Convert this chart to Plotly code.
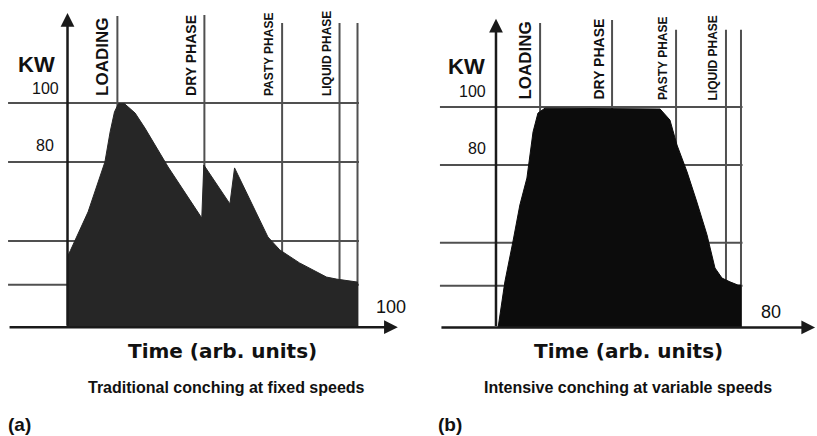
import plotly.graph_objects as go

# ---- data -------------------------------------------------------------
PHASES = ["LOADING", "DRY PHASE", "PASTY PHASE", "LIQUID PHASE"]

# (a) traditional conching: power draw (KW) over time (arb. units)
TIME_A = [0, 1.0, 7.1, 12.9, 14.7, 16.2, 17.6, 19.6, 23.3, 26.7, 34.7, 46.3,
          47.0, 56.0, 57.6, 69.1, 73.2, 80.0, 89.3, 92.8, 100]
KW_A = [48.0, 50.0, 63.1, 80.0, 90.2, 97.0, 99.8, 99.8, 96.6, 91.5, 78.3, 61.0,
        79.0, 65.8, 78.0, 54.6, 50.2, 45.8, 41.0, 40.3, 39.3]
PHASE_T_A = [17.2, 47.2, 74.0, 93.8]
END_A = 100

# (b) intensive conching
TIME_B = [0.7, 2.9, 5.5, 7.8, 10.1, 12.1, 13.7, 16.0, 53.6, 56.8, 59.1, 62.4,
          65.6, 68.9, 71.5, 73.8, 76.4, 79.0, 80]
KW_B = [24.0, 39.7, 53.4, 66.2, 75.5, 91.4, 97.9, 99.6, 99.3, 95.5, 86.9, 77.6,
        67.2, 55.9, 44.5, 41.0, 39.7, 38.6, 38.6]
PHASE_T_B = [14.4, 37.9, 58.8, 75.1]
END_B = 80

Y_TICKS = [100, 80]
GRID_KW = [100, 80, 53.2, 38.4]
BASE_KW = 24

TITLES = ["Traditional conching at fixed speeds", "Intensive conching at variable speeds"]
TAGS = ["(a)", "(b)"]
X_TITLE = "Time (arb. units)"

# ---- styling ------------------------------------------------------------
W, H = 817, 436
SANS = "Liberation Sans, Arial, sans-serif"
GRID_COL = "#505050"
AXIS_COL = "#1a1a1a"
LABEL_SIZES = [17, 14, 12, 12]

panels = [
    dict(x="x", y="y", dom=[0, 408 / W], xr=[-23.28, 117.41], yr=[-12.88, 134.92],
         t=TIME_A, kw=KW_A, phase_t=PHASE_T_A, end=END_A,
         tops=[129.5, 129.8, 127.1, 127.1], end_top=127.1, y_top=130.5,
         grid_left=-20.5, x_tip=113.9, fill="#262626",
         kw_px=(36, 64), end_lbl=(111.5, 31.0), tick_shift=[(-7, 4), (-12, 6)],
         xt=(222.5, 351), st=(226, 387), tag=(19, 424)),
    dict(x="x2", y="y2", dom=[408 / W, 1], xr=[-28.73, 104.82], yr=[-13.45, 136.9],
         t=TIME_B, kw=KW_B, phase_t=PHASE_T_B, end=END_B,
         tops=[129.0, 130.0, 126.6, 126.6], end_top=126.6, y_top=130.4,
         grid_left=-18.3, x_tip=104.2, fill="#0c0c0c",
         kw_px=(466, 66.5), end_lbl=(89.8, 29.4), tick_shift=[(-8, 5), (-8, 6)],
         xt=(628.5, 351), st=(628, 387), tag=(450, 424)),
]

fig = go.Figure()
shapes, annotations = [], []

for p in panels:
    # filled power profile
    xs = [p["t"][0]] + p["t"] + [p["end"]]
    ys = [BASE_KW] + p["kw"] + [BASE_KW]
    fig.add_trace(go.Scatter(x=xs, y=ys, xaxis=p["x"], yaxis=p["y"], mode="lines",
                             fill="toself", fillcolor=p["fill"],
                             line=dict(color=p["fill"], width=1),
                             hoverinfo="skip", showlegend=False))

    # horizontal grid
    for g in GRID_KW:
        shapes.append(dict(type="line", xref=p["x"], yref=p["y"], layer="below",
                           x0=p["grid_left"], x1=p["end"] + 0.5, y0=g, y1=g,
                           line=dict(color=GRID_COL, width=2)))
    # phase boundaries
    for t, top in zip(p["phase_t"] + [p["end"]], p["tops"] + [p["end_top"]]):
        shapes.append(dict(type="line", xref=p["x"], yref=p["y"], layer="below",
                           x0=t, x1=t, y0=BASE_KW, y1=top,
                           line=dict(color=GRID_COL, width=2)))
    # phase labels
    for name, t, fs in zip(PHASES, p["phase_t"], LABEL_SIZES):
        annotations.append(dict(text="<b>%s</b>" % name, xref=p["x"], yref=p["y"],
                                x=t, y=100, xanchor="right", yanchor="bottom",
                                xshift=-4, yshift=5, textangle=-90, showarrow=False,
                                font=dict(family=SANS, size=fs, color="#111")))

    # axes with arrow heads
    annotations.append(dict(text="", xref=p["x"], yref=p["y"], x=0, y=p["y_top"],
                            ax=0, ay=BASE_KW, axref=p["x"], ayref=p["y"],
                            showarrow=True, arrowhead=2, arrowsize=1.1,
                            arrowwidth=2.5, arrowcolor=AXIS_COL, standoff=0))
    annotations.append(dict(text="", xref=p["x"], yref=p["y"], x=p["x_tip"], y=BASE_KW,
                            ax=p["grid_left"], ay=BASE_KW, axref=p["x"], ayref=p["y"],
                            showarrow=True, arrowhead=2, arrowsize=1.1,
                            arrowwidth=2.5, arrowcolor=AXIS_COL, standoff=0))

    # y tick labels and unit
    for v, (dx, dy) in zip(Y_TICKS, p["tick_shift"]):
        annotations.append(dict(text=str(v), xref=p["x"], yref=p["y"], x=0, y=v,
                                xanchor="right", yanchor="bottom", xshift=dx, yshift=dy,
                                showarrow=False,
                                font=dict(family=SANS, size=16, color="#111")))
    annotations.append(dict(text="<b>KW</b>", xref="paper", yref="paper",
                            x=p["kw_px"][0] / W, y=1 - p["kw_px"][1] / H,
                            xanchor="center", yanchor="middle", showarrow=False,
                            font=dict(family=SANS, size=22, color="#111")))
    # total time at the end of the x axis
    annotations.append(dict(text=str(p["end"]), xref=p["x"], yref=p["y"],
                            x=p["end_lbl"][0], y=p["end_lbl"][1],
                            xanchor="center", yanchor="middle", showarrow=False,
                            font=dict(family=SANS, size=18, color="#111")))

for p, title, tag in zip(panels, TITLES, TAGS):
    annotations.append(dict(text="<b>%s</b>" % X_TITLE, xref="paper", yref="paper",
                            x=p["xt"][0] / W, y=1 - p["xt"][1] / H,
                            xanchor="center", yanchor="middle", showarrow=False,
                            font=dict(family="DejaVu Sans, sans-serif", size=20,
                                      color="#111")))
    annotations.append(dict(text="<b>%s</b>" % title, xref="paper", yref="paper",
                            x=p["st"][0] / W, y=1 - p["st"][1] / H,
                            xanchor="center", yanchor="middle", showarrow=False,
                            font=dict(family=SANS, size=16, color="#111")))
    annotations.append(dict(text="<b>%s</b>" % tag, xref="paper", yref="paper",
                            x=p["tag"][0] / W, y=1 - p["tag"][1] / H,
                            xanchor="center", yanchor="middle", showarrow=False,
                            font=dict(family=SANS, size=19, color="#111")))

axis_off = dict(visible=False, showgrid=False, zeroline=False, fixedrange=True)
layout = dict(width=W, height=H, margin=dict(l=0, r=0, t=0, b=0),
              paper_bgcolor="white", plot_bgcolor="rgba(0,0,0,0)",
              shapes=shapes, annotations=annotations, showlegend=False)
for p in panels:
    xa = "xaxis" if p["x"] == "x" else "xaxis2"
    ya = "yaxis" if p["y"] == "y" else "yaxis2"
    layout[xa] = dict(axis_off, domain=p["dom"], range=p["xr"], anchor=p["y"])
    layout[ya] = dict(axis_off, domain=[0, 1], range=p["yr"], anchor=p["x"])
fig.update_layout(**layout)

fig.write_html("out.html")
